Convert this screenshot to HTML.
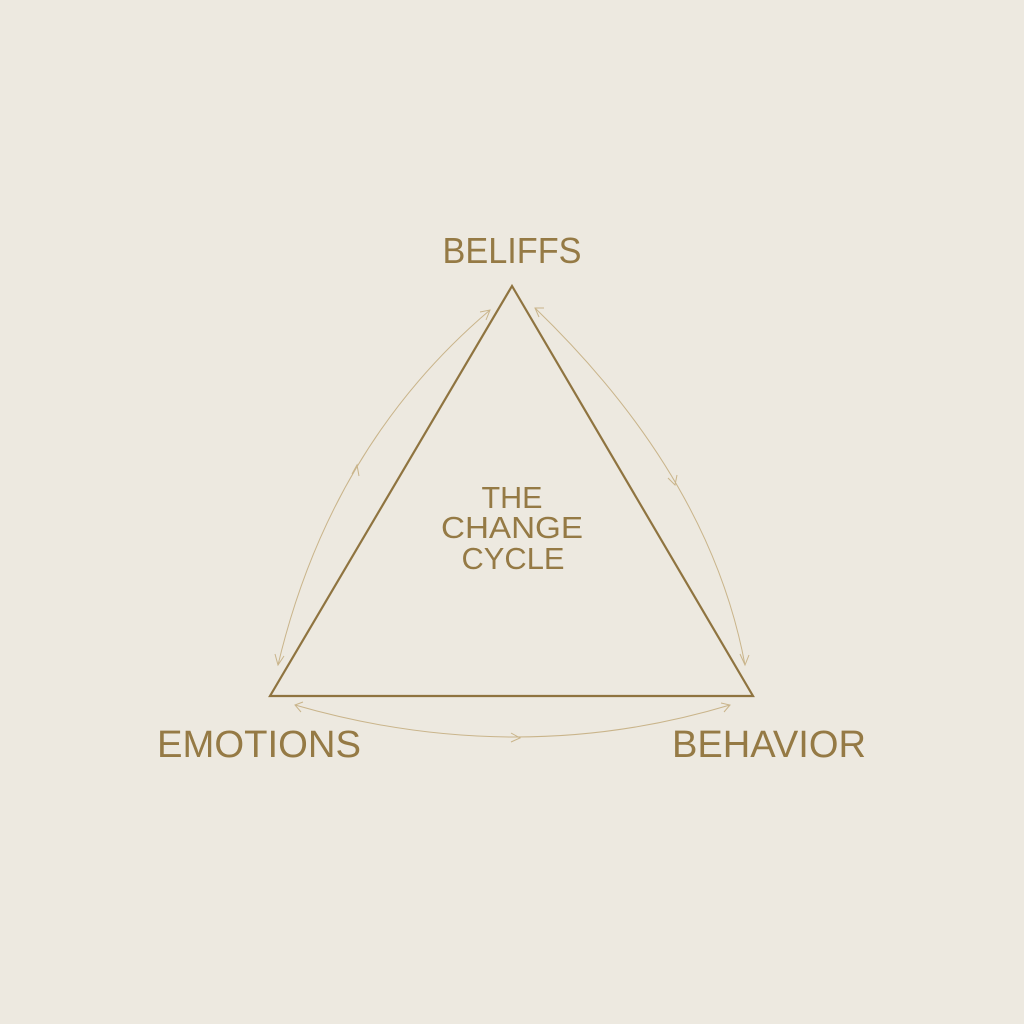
<!DOCTYPE html>
<html><head><meta charset="utf-8"><style>
html,body{margin:0;padding:0;background:#ede9e0;}
svg{display:block;}
text{font-family:"Liberation Sans",sans-serif;fill:#957a45;}
</style></head><body>
<svg width="1024" height="1024" viewBox="0 0 1024 1024" xmlns="http://www.w3.org/2000/svg">
<rect width="1024" height="1024" fill="#ede9e0"/>
<polygon points="512,286 270,696 753,696" fill="none" stroke="#8f7440" stroke-width="2.2" stroke-linejoin="miter"/>
<g fill="none" stroke="#c9b48a" stroke-width="1">
<path d="M278,665 Q330,446 490,310"/>
<path d="M535,308 Q710,477 745,665"/>
<path d="M295,705 Q517,769 730,705"/>
<!-- arrowheads -->
<path d="M480,312 L490,310 L486,320"/>
<path d="M352,474 L357,465 L359,476"/>
<path d="M544,308 L535,308 L539,317"/>
<path d="M668,478 L675,485 L677,475"/>
<path d="M275,654 L278,665 L284,656"/>
<path d="M740,654 L745,665 L749,655"/>
<path d="M303,702 L295,705 L301,712"/>
<path d="M511,733 L520,738 L511,742"/>
<path d="M721,703 L730,705 L724,712"/>
</g>
<text x="512" y="263" font-size="36" text-anchor="middle" textLength="139" lengthAdjust="spacingAndGlyphs">BELIFFS</text>
<text x="259" y="757" font-size="38" text-anchor="middle" textLength="204" lengthAdjust="spacingAndGlyphs">EMOTIONS</text>
<text x="769" y="757" font-size="38" text-anchor="middle" textLength="194" lengthAdjust="spacingAndGlyphs">BEHAVIOR</text>
<text x="512" y="508" font-size="31" text-anchor="middle" textLength="61" lengthAdjust="spacingAndGlyphs">THE</text>
<text x="512" y="538" font-size="31" text-anchor="middle" textLength="142" lengthAdjust="spacingAndGlyphs">CHANGE</text>
<text x="513" y="569" font-size="31" text-anchor="middle" textLength="103" lengthAdjust="spacingAndGlyphs">CYCLE</text>
</svg>
</body></html>
